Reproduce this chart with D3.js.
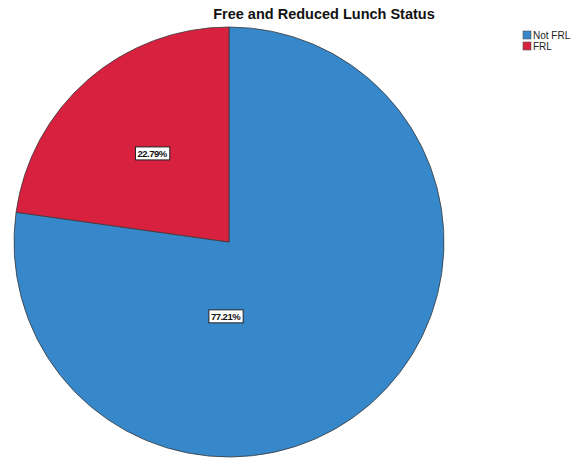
<!DOCTYPE html>
<html>
<head>
<meta charset="utf-8">
<script src="https://cdn.jsdelivr.net/npm/d3@7"></script>
<style>
  html, body { margin: 0; padding: 0; background: #fff; }
  svg { display: block; }
</style>
</head>
<body>
<svg id="chart" width="586" height="459"></svg>
<script>
// Lunch status breakdown (percent of students)
const categories = ["Not FRL", "FRL"];
const values = [77.21, 22.79];
const colors = ["#3787cb", "#d7213f"];
const titleText = "Free and Reduced Lunch Status";

const width = 586, height = 459;
const cx = 229, cy = 242, radius = 215;

const svg = d3.select("#chart");

const color = d3.scaleOrdinal().domain(categories).range(colors);

const pie = d3.pie().sort(null).value(d => d.value);
const arcs = pie(categories.map((c, i) => ({ category: c, value: values[i] })));

const arc = d3.arc().innerRadius(0).outerRadius(radius);

const g = svg.append("g").attr("transform", `translate(${cx},${cy})`);

g.selectAll("path.slice")
  .data(arcs)
  .join("path")
  .attr("class", "slice")
  .attr("d", arc)
  .attr("fill", d => color(d.data.category))
  .attr("stroke", "#3a3a3a")
  .attr("stroke-width", 0.8);

// Label placement: small slices use their centroid, the large slice sits below the centre
const labelPos = d => {
  const span = d.endAngle - d.startAngle;
  if (span < Math.PI) {
    const la = d3.arc().innerRadius(radius * 0.545).outerRadius(radius * 0.545);
    return la.centroid(d);
  }
  const a = Math.PI + 0.047;
  const r = radius * 0.347;
  return [Math.sin(a) * r, -Math.cos(a) * r];
};

const labels = g.selectAll("g.lbl")
  .data(arcs)
  .join("g")
  .attr("class", "lbl")
  .attr("transform", d => `translate(${labelPos(d)})`);

labels.append("text")
  .attr("text-anchor", "middle")
  .attr("dy", "0.35em")
  .attr("font-family", "Liberation Sans, Arial, sans-serif")
  .attr("font-size", 9.5)
  .attr("font-weight", "bold")
  .attr("fill", "#111")
  .attr("letter-spacing", -0.5)
  .text(d => d.data.value.toFixed(2) + "%");

labels.each(function () {
  const grp = d3.select(this);
  const bb = grp.select("text").node().getBBox();
  grp.insert("rect", "text")
    .attr("x", bb.x - 2)
    .attr("y", bb.y - 1)
    .attr("width", bb.width + 4)
    .attr("height", bb.height + 2)
    .attr("fill", "#fff")
    .attr("stroke", "#222")
    .attr("stroke-width", 1);
});

// Title
svg.append("text")
  .attr("x", 324)
  .attr("y", 19)
  .attr("text-anchor", "middle")
  .attr("font-family", "Liberation Sans, Arial, sans-serif")
  .attr("font-weight", "bold")
  .attr("font-size", 14.5)
  .attr("fill", "#111")
  .text(titleText);

// Legend
const legend = svg.append("g").attr("transform", "translate(523,31)");
const items = legend.selectAll("g")
  .data(categories)
  .join("g")
  .attr("transform", (d, i) => `translate(0,${i * 11})`);

items.append("rect")
  .attr("width", 8)
  .attr("height", 8)
  .attr("fill", d => color(d))
  .attr("stroke", "#555")
  .attr("stroke-width", 0.6);

items.append("text")
  .attr("x", 10)
  .attr("y", 7.5)
  .attr("font-family", "Liberation Sans, Arial, sans-serif")
  .attr("font-size", 10)
  .attr("fill", "#222")
  .text(d => d);
</script>
</body>
</html>
